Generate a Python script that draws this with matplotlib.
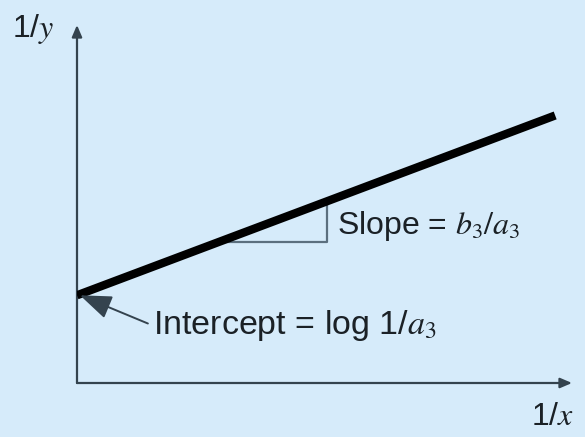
import numpy as np
import matplotlib.pyplot as plt

# Linearised relationship: 1/y = intercept + slope * (1/x)
intercept = 0.245
slope = 0.52
x_span = [0.0, 0.966]

# slope triangle drawn under the line
tri_x = [0.287, 0.505]

# text labels
y_label = "1/$y$"
x_label = "1/$x$"
slope_label = "Slope = $b_3/a_3$"
intercept_label = "Intercept = log 1/$a_3$"

bg = "#d6ebfa"
axis_color = "#34434e"
text_color = "#1b2126"
fs = 23

plt.rcParams["font.family"] = ["Liberation Sans", "DejaVu Sans"]
plt.rcParams["mathtext.fontset"] = "stix"

fig = plt.figure(figsize=(5.85, 4.37), dpi=100, facecolor=bg)
ax = fig.add_axes([77 / 585, 54 / 437, 495 / 585, 358 / 437])
ax.set_xlim(0, 1)
ax.set_ylim(0, 1)
ax.axis("off")
ax.set_facecolor(bg)

# axes with arrow heads
arrow = dict(arrowstyle="-|>,head_length=0.7,head_width=0.3", color=axis_color, lw=1.6,
             shrinkA=0, shrinkB=0)
ax.annotate("", xy=(0, 1.0), xytext=(0, 0), arrowprops=arrow, annotation_clip=False)
ax.annotate("", xy=(1.0, 0), xytext=(0, 0), arrowprops=arrow, annotation_clip=False)

ax.text(-0.045, 0.99, y_label, fontsize=fs, ha="right", va="center", color=text_color)
ax.text(0.917, -0.095, x_label, fontsize=fs, ha="left", va="center", color=text_color)

# slope triangle
x0, x1 = tri_x
y_base = intercept + slope * x0
y_top = intercept + slope * x1
ax.plot([x0, x1, x1], [y_base, y_base, y_top], color="#5b6f7e", lw=1.6, zorder=2)

# the straight line itself
xs = np.array(x_span)
ax.plot(xs, intercept + slope * xs, color="black", lw=6.0, solid_capstyle="butt", zorder=3)

ax.text(x1 + 0.02, y_base + 0.045, slope_label, fontsize=fs, ha="left", va="center",
        color=text_color)

# intercept callout
ax.annotate(intercept_label, xy=(0.006, intercept), xytext=(0.154, 0.16),
            fontsize=24.5, ha="left", va="center", color=text_color,
            arrowprops=dict(arrowstyle="-|>,head_length=0.8,head_width=0.3",
                            color=axis_color, lw=1.4, shrinkA=2, shrinkB=0,
                            relpos=(0, 0.5)))

fig.savefig("out.png", dpi=100, facecolor=bg)
